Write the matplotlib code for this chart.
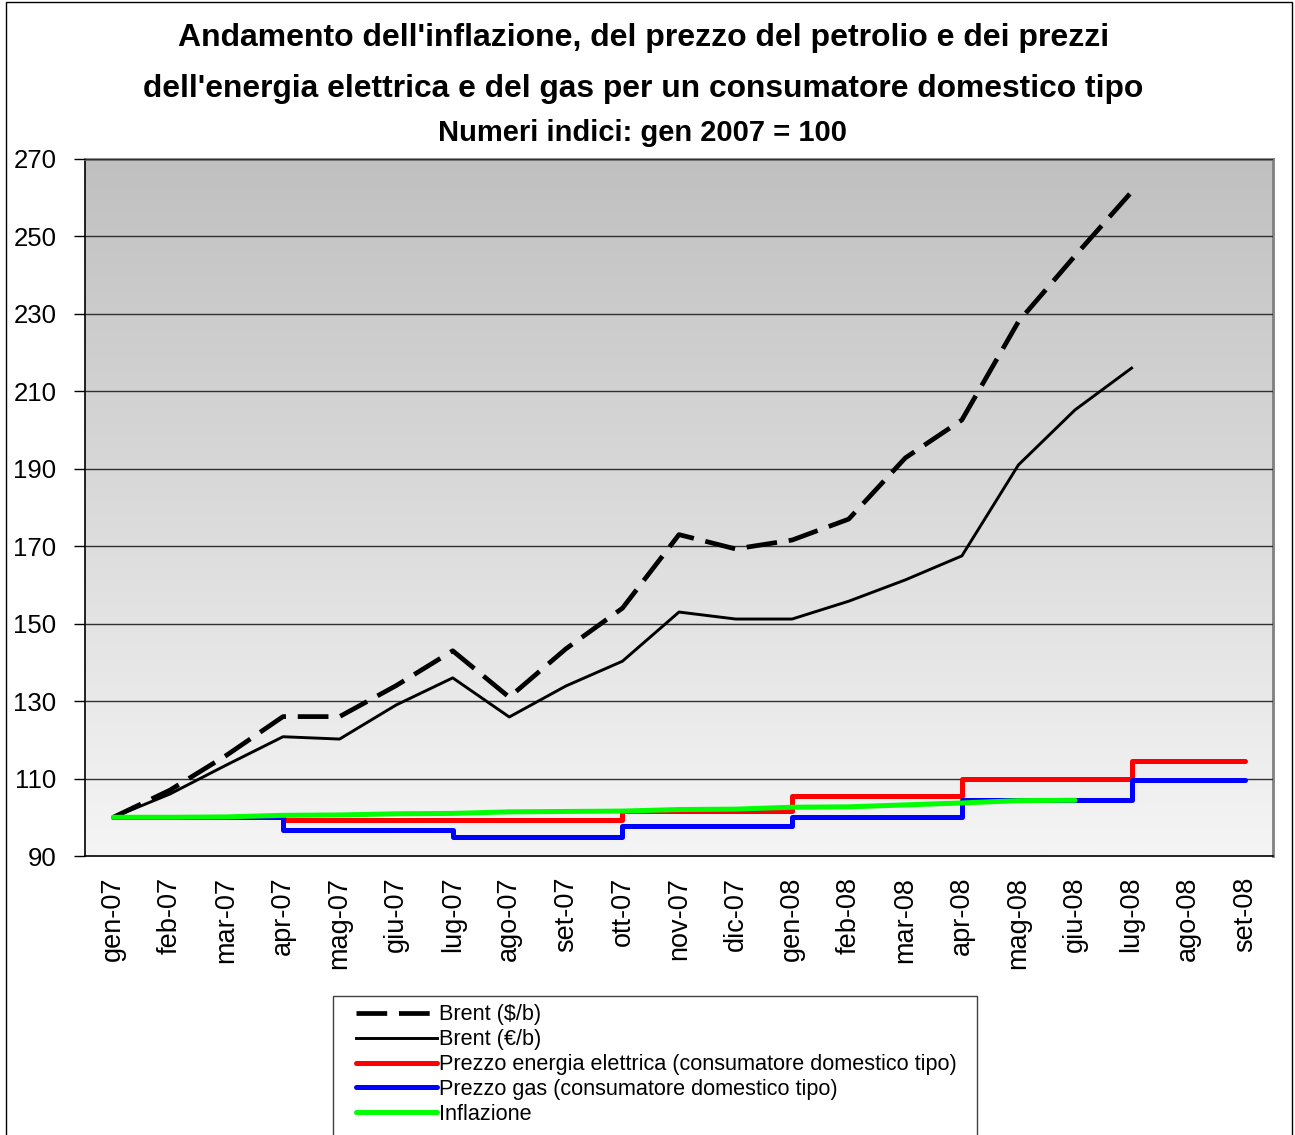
import numpy as np
import matplotlib
matplotlib.use('Agg')
import matplotlib.pyplot as plt
from matplotlib.patches import Rectangle

plt.rcParams['font.family'] = ['Liberation Sans', 'DejaVu Sans']

# Monthly categories
months = ['gen-07', 'feb-07', 'mar-07', 'apr-07', 'mag-07', 'giu-07', 'lug-07',
          'ago-07', 'set-07', 'ott-07', 'nov-07', 'dic-07', 'gen-08', 'feb-08',
          'mar-08', 'apr-08', 'mag-08', 'giu-08', 'lug-08', 'ago-08', 'set-08']

# Index values (gen 2007 = 100)
brent_usd = [100, 107, 116, 126, 126, 134, 143, 131, 143.5, 154, 173, 169.3,
             171.6, 177, 192.8, 202.6, 228, 245, 261.5]
brent_eur = [100, 106, 113.5, 120.8, 120.2, 129, 136, 125.9, 133.9, 140.3, 153,
             151.2, 151.2, 155.8, 161.3, 167.5, 191, 205.2, 216]
elettr = [100, 100, 100, 99.4, 99.4, 99.4, 99.4, 99.4, 99.4, 101.5, 101.5, 101.5,
          105.5, 105.5, 105.5, 110, 110, 110, 114.5, 114.5, 114.5]
gas = [100, 100, 100, 96.8, 96.8, 96.8, 94.9, 94.9, 94.9, 97.8, 97.8, 97.8,
       100, 100, 100, 104.5, 104.5, 104.5, 109.5, 109.5, 109.5]
inflazione = [100, 100, 100.1, 100.5, 100.6, 100.9, 101, 101.4, 101.5, 101.6, 102,
              102.1, 102.6, 102.7, 103.2, 103.7, 104.3, 104.4]

fig = plt.figure(figsize=(12.95, 11.35), dpi=100)
ax = fig.add_axes([85/1295, 1-856/1135, (1273-85)/1295, (856-159)/1135])

# gradient background of the plot area
grad = np.linspace(0, 1, 256).reshape(-1, 1)
ax.imshow(grad, extent=[0, 1, 0, 1], transform=ax.transAxes, aspect='auto',
          cmap=matplotlib.colors.LinearSegmentedColormap.from_list('g', ['#f5f5f5', '#c0c0c0']),
          origin='lower', zorder=0)

x = np.arange(len(months))
ax.plot(x[:len(brent_usd)], brent_usd, color='black', lw=3.4, dashes=(6.5, 2.5), zorder=3,
        label='Brent ($/b)')
ax.plot(x[:len(brent_eur)], brent_eur, color='black', lw=2.1, zorder=3,
        label='Brent (€/b)')
ax.plot(x, elettr, color='#ff0000', lw=3.6, drawstyle='steps-post', zorder=3,
        solid_capstyle='round', label='Prezzo energia elettrica (consumatore domestico tipo)')
ax.plot(x, gas, color='#0000ff', lw=3.6, drawstyle='steps-post', zorder=3,
        solid_capstyle='round', label='Prezzo gas (consumatore domestico tipo)')
ax.plot(x[:len(inflazione)], inflazione, color='#00ff00', lw=3.6, zorder=4,
        solid_capstyle='round', label='Inflazione')

ax.set_xlim(-0.5, len(months) - 0.5)
ax.set_ylim(90, 270)
ax.set_yticks(np.arange(90, 271, 20))
ax.set_xticks(x)
ax.set_xticklabels(months, rotation=90, fontsize=19.5)
ax.tick_params(axis='x', length=0, pad=15)
ax.tick_params(axis='y', length=8, width=1, direction='out', pad=12.5, labelsize=18.5)
ax.yaxis.grid(True, color='#303030', lw=1.0)
ax.set_axisbelow(False)
for s in ['top', 'right']:
    ax.spines[s].set_color('#808080')
    ax.spines[s].set_linewidth(2)
for s in ['left', 'bottom']:
    ax.spines[s].set_color('black')
    ax.spines[s].set_linewidth(1.2)

fig.text(0.497, 1-38/1135, "Andamento dell'inflazione, del prezzo del petrolio e dei prezzi",
         ha='center', va='center', fontsize=23, fontweight='bold')
fig.text(0.497, 1-89/1135, "dell'energia elettrica e del gas per un consumatore domestico tipo",
         ha='center', va='center', fontsize=22.9, fontweight='bold')
fig.text(0.4965, 1-133/1135, "Numeri indici: gen 2007 = 100",
         ha='center', va='center', fontsize=21, fontweight='bold')

leg = fig.legend(loc='upper left', bbox_to_anchor=(352/1295, 1-1000/1135),
                 fontsize=15.6, frameon=False, handlelength=3.7,
                 handletextpad=0.12, labelspacing=0.18, borderpad=0.2,
                 borderaxespad=0)

# legend frame (extends past the bottom edge)
fig.patches.append(Rectangle((333/1295, -0.02), (977-333)/1295, 0.02 + 1-996/1135,
                             transform=fig.transFigure, fill=False,
                             edgecolor='#404040', lw=1.0))

# chart area border
fig.patches.append(Rectangle((6/1295, -0.01), (1292-6)/1295, 1.008, transform=fig.transFigure,
                             fill=False, edgecolor='black', lw=1.0))

fig.savefig('out.png', dpi=100)
